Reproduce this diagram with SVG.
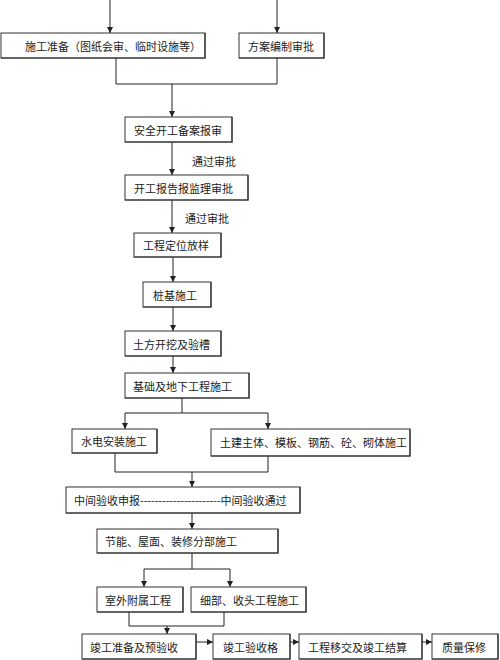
<svg xmlns="http://www.w3.org/2000/svg" width="500" height="660" viewBox="0 0 500 660">
<style>
.b{fill:#fff;stroke:#333;stroke-width:1}
.s{fill:none;stroke:#333;stroke-width:1.2}
.t{font-family:"Noto Sans CJK SC","Liberation Serif",serif;font-size:11px;fill:#222;dominant-baseline:central}
.c{fill:none;stroke:#222;stroke-width:1}
</style>
<defs>
<marker id="a" viewBox="0 0 6 6" refX="6" refY="3" markerWidth="6" markerHeight="6" markerUnits="userSpaceOnUse" orient="auto">
<path d="M0,0 L6,3 L0,6 z" fill="#222"/>
</marker>
</defs>
<rect width="500" height="660" fill="#fff"/>
<g id="connectors">
<path class="c" d="M110,0 V33" marker-end="url(#a)"/>
<path class="c" d="M277,0 V33" marker-end="url(#a)"/>
<path class="c" d="M116,58 V84 H277 V58"/>
<path class="c" d="M172,84 V117" marker-end="url(#a)"/>
<path class="c" d="M172,142 V175" marker-end="url(#a)"/>
<path class="c" d="M172,200 V233" marker-end="url(#a)"/>
<path class="c" d="M173,257 V282" marker-end="url(#a)"/>
<path class="c" d="M173,307 V331" marker-end="url(#a)"/>
<path class="c" d="M173,356 V373" marker-end="url(#a)"/>
<path class="c" d="M182,398 V413"/>
<path class="c" d="M125,413 H268"/>
<path class="c" d="M125,413 V429" marker-end="url(#a)"/>
<path class="c" d="M268,413 V429" marker-end="url(#a)"/>
<path class="c" d="M115,453 V472 H268 V456"/>
<path class="c" d="M192,472 V487" marker-end="url(#a)"/>
<path class="c" d="M192,513 V529" marker-end="url(#a)"/>
<path class="c" d="M192,553 V569"/>
<path class="c" d="M144,569 H230"/>
<path class="c" d="M144,569 V587" marker-end="url(#a)"/>
<path class="c" d="M230,569 V587" marker-end="url(#a)"/>
<path class="c" d="M129,612 V626 H224 V612"/>
<path class="c" d="M167,626 V634" marker-end="url(#a)"/>
<path class="c" d="M196,642 H213" marker-end="url(#a)"/>
<path class="c" d="M290,642 H299" marker-end="url(#a)"/>
<path class="c" d="M422,642 H432" marker-end="url(#a)"/>
<text class="t" x="192" y="161">通过审批</text>
<text class="t" x="185" y="218">通过审批</text>
</g>
<g id="n1"><rect class="b" x="1" y="33" width="204" height="25"/><path class="s" d="M205,33 V58 H1"/><text class="t" x="25" y="46">施工准备（图纸会审、临时设施等）</text></g>
<g id="n2"><rect class="b" x="239" y="33" width="85" height="25"/><path class="s" d="M324,33 V58 H239"/><text class="t" x="248" y="46">方案编制审批</text></g>
<g id="n3"><rect class="b" x="125" y="117" width="107" height="25"/><path class="s" d="M232,117 V142 H125"/><text class="t" x="134" y="130">安全开工备案报审</text></g>
<g id="n4"><rect class="b" x="125" y="175" width="123" height="25"/><path class="s" d="M248,175 V200 H125"/><text class="t" x="134" y="188">开工报告报监理审批</text></g>
<g id="n5"><rect class="b" x="134" y="233" width="87" height="24"/><path class="s" d="M221,233 V257 H134"/><text class="t" x="143" y="245">工程定位放样</text></g>
<g id="n6"><rect class="b" x="143" y="282" width="68" height="25"/><path class="s" d="M211,282 V307 H143"/><text class="t" x="153" y="295">桩基施工</text></g>
<g id="n7"><rect class="b" x="125" y="331" width="96" height="25"/><path class="s" d="M221,331 V356 H125"/><text class="t" x="133" y="344">土方开挖及验槽</text></g>
<g id="n8"><rect class="b" x="125" y="373" width="124" height="25"/><path class="s" d="M249,373 V398 H125"/><text class="t" x="133" y="386">基础及地下工程施工</text></g>
<g id="n9"><rect class="b" x="72" y="429" width="85" height="24"/><path class="s" d="M157,429 V453 H72"/><text class="t" x="81" y="441">水电安装施工</text></g>
<g id="n10"><rect class="b" x="211" y="429" width="199" height="27"/><path class="s" d="M410,429 V456 H211"/><text class="t" x="220" y="442">土建主体、模板、钢筋、砼、砌体施工</text></g>
<g id="n11"><rect class="b" x="66" y="487" width="234" height="26"/><path class="s" d="M300,487 V513 H66"/><text class="t" x="74" y="500">中间验收申报<tspan font-family="Liberation Serif">----------------------</tspan>中间验收通过</text></g>
<g id="n12"><rect class="b" x="97" y="529" width="181" height="24"/><path class="s" d="M278,529 V553 H97"/><text class="t" x="105" y="541">节能、屋面、装修分部施工</text></g>
<g id="n13"><rect class="b" x="97" y="587" width="86" height="25"/><path class="s" d="M183,587 V612 H97"/><text class="t" x="105" y="600">室外附属工程</text></g>
<g id="n14"><rect class="b" x="191" y="587" width="115" height="25"/><path class="s" d="M306,587 V612 H191"/><text class="t" x="200" y="600">细部、收头工程施工</text></g>
<g id="n15"><rect class="b" x="82" y="634" width="114" height="25"/><path class="s" d="M196,634 V659 H82"/><text class="t" x="90" y="647">竣工准备及预验收</text></g>
<g id="n16"><rect class="b" x="213" y="634" width="77" height="25"/><path class="s" d="M290,634 V659 H213"/><text class="t" x="223" y="647">竣工验收格</text></g>
<g id="n17"><rect class="b" x="299" y="634" width="123" height="25"/><path class="s" d="M422,634 V659 H299"/><text class="t" x="308" y="647">工程移交及竣工结算</text></g>
<g id="n18"><rect class="b" x="432" y="634" width="66" height="25"/><path class="s" d="M498,634 V659 H432"/><text class="t" x="442" y="647">质量保修</text></g>
</svg>
